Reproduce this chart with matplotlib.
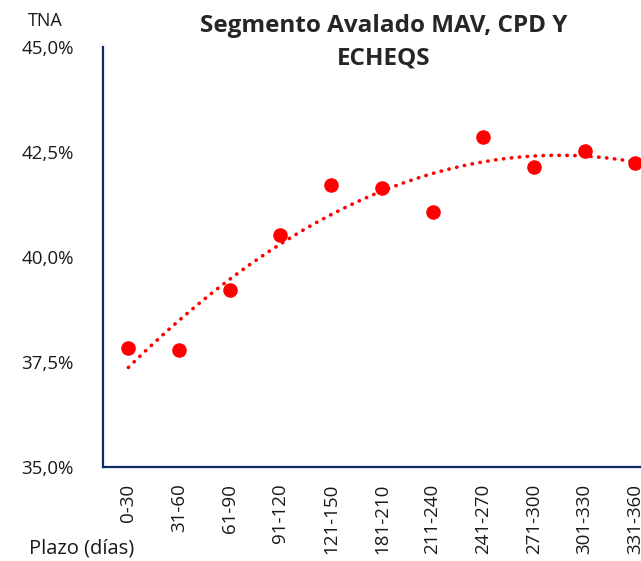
import numpy as np
import matplotlib
matplotlib.use("Agg")
import matplotlib.pyplot as plt
from matplotlib.ticker import FuncFormatter

plt.rcParams['font.family'] = ['Open Sans', 'DejaVu Sans']

# Plazos (días) y TNA (%)
plazos = ["0-30", "31-60", "61-90", "91-120", "121-150", "181-210",
          "211-240", "241-270", "271-300", "301-330", "331-360"]
tna = [37.83, 37.79, 39.21, 40.52, 41.71, 41.64, 41.07, 42.86, 42.14, 42.52, 42.24]

navy = '#0b2a66'
red = '#ff0000'

fig = plt.figure(figsize=(6.41, 5.61), dpi=100)
ax = fig.add_axes([0.1607, 0.1676, 0.870, 0.7487])

x = np.arange(len(plazos))
ax.scatter(x, tna, s=110, color=red, zorder=3, linewidths=0)

# Línea de tendencia polinómica (orden 2)
coef = np.polyfit(x, tna, 2)
xs = np.linspace(0, len(plazos) - 1, 200)
ax.plot(xs, np.polyval(coef, xs), color=red, lw=2.6,
        linestyle=(0, (0.1, 2.1)), dash_capstyle='round', zorder=2)

ax.set_xlim(-0.5, len(plazos) - 0.5)
ax.set_ylim(35, 45)
ax.set_yticks([35, 37.5, 40, 42.5, 45])
ax.yaxis.set_major_formatter(FuncFormatter(lambda v, p: f"{v:.1f}%".replace('.', ',')))
ax.set_xticks(x)
ax.set_xticklabels(plazos, rotation=90, va='top', ha='center')
ax.tick_params(axis='both', length=0, labelsize=13.5, colors='#1a1a1a')
ax.tick_params(axis='y', pad=21)
ax.tick_params(axis='x', pad=12)

for s in ['top', 'right']:
    ax.spines[s].set_visible(False)
for s in ['left', 'bottom']:
    ax.spines[s].set_color(navy)
    ax.spines[s].set_linewidth(1.6)

fig.text(0.070, 0.962, "TNA", fontsize=13, ha='center', va='center', color='#1a1a1a')
fig.text(0.128, 0.022, "Plazo (días)", fontsize=14.5, ha='center', va='center', color='#1a1a1a')
fig.text(0.598, 0.925, "Segmento Avalado MAV, CPD Y\nECHEQS", fontsize=17.5,
         fontweight='bold', ha='center', va='center', color='#262626', linespacing=1.45)

fig.savefig("out.png", dpi=100)
